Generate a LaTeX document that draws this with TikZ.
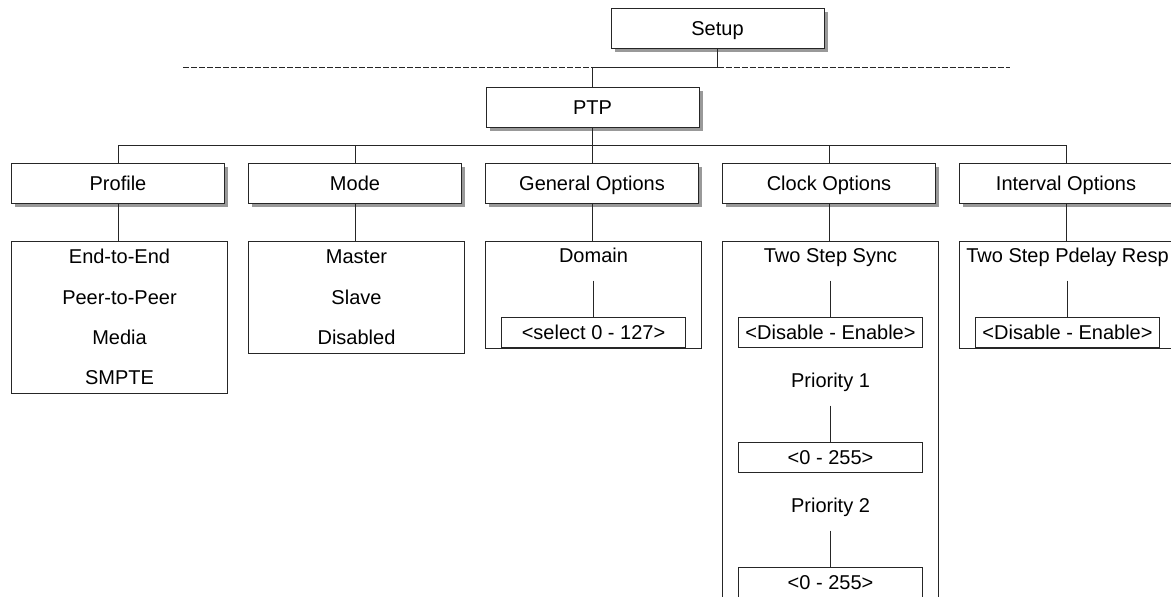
\documentclass[tikz,border=0pt]{standalone}
\usepackage{fontspec}
\setmainfont{Liberation Sans}
\usetikzlibrary{shadows}
\tikzset{
  hdr/.style={draw, fill=white, minimum width=106.5pt, minimum height=20pt, inner sep=0pt,
    drop shadow={shadow xshift=1.8pt, shadow yshift=-1.8pt, fill=black!40, opacity=1}},
  listbox/.style={draw, minimum width=108pt, inner sep=0pt},
  item/.style={minimum height=25pt, inner sep=0pt},
  valbox/.style={draw, fill=white, minimum width=92pt, minimum height=15pt, inner sep=0pt}
}
\begin{document}
\begin{tikzpicture}[x=0.5pt, y=-0.5pt, line width=0.5pt, draw=black!85,
    every node/.append style={font=\fontsize{10}{12}\selectfont, text height=7.2pt, text depth=0pt}]
  \useasboundingbox (0,0) rectangle (1171,596);
  \coordinate (busL) at (183,67);
  \coordinate (busR) at (1010,67);
  \coordinate (lvl) at (0,145);
  % top of the tree
  \node[hdr] (setup) at (717.5,28) {Setup};
  \node[hdr] (ptp) at (592.5,107) {PTP};
  \draw (setup) -- (setup |- busR);
  \draw (ptp |- busL) -- (ptp);
  \draw (ptp |- busL) -- (setup |- busR);
  \draw[dash pattern=on 3pt off 1pt] (busL) -- (ptp |- busL);
  \draw[dash pattern=on 3pt off 1pt] (setup |- busR) -- (busR);
  \draw (ptp) -- (ptp |- lvl);
  % second level
  \foreach \N/\X/\T in {profile/118/Profile, mode/355/Mode, general/592/General Options,
      clock/829/Clock Options, interval/1066/Interval Options} {
    \node[hdr] (\N) at (\X,183) {\T};
    \draw (\N) -- (\N |- lvl);
  }
  \draw (profile |- lvl) -- (interval |- lvl);
  % option lists
  \node[listbox, minimum height=76pt] (profilelist) at (119.5,317) {};
  \node[listbox, minimum height=56pt] (modelist) at (356.5,297) {};
  \node[listbox, minimum height=53.5pt] (generallist) at (593.5,294.5) {};
  \node[listbox, minimum height=190pt] (clocklist) at (830.5,431) {};
  \node[listbox, minimum height=53.5pt] (intervallist) at (1067.5,294.5) {};
  \foreach \N in {profile, mode, general, clock, interval}
    \draw (\N.south) -- (\N.south |- \N list.north);
  \foreach \N/\Y/\T in {e2e/256/End-to-End, p2p/297/Peer-to-Peer, media/337/Media, smpte/377/SMPTE}
    \node[item] (\N) at (119.5,\Y) {\T};
  \foreach \N/\Y/\T in {master/256/Master, slave/297/Slave, disabled/337/Disabled}
    \node[item] (\N) at (356.5,\Y) {\T};
  \node[item] (domain) at (593.5,255) {Domain};
  \node[valbox] (domainval) at (593.5,332) {<select 0 - 127>};
  \draw (domain) -- (domainval);
  \node[item] (sync) at (830.5,255) {Two Step Sync};
  \node[valbox] (syncval) at (830.5,332) {<Disable - Enable>};
  \draw (sync) -- (syncval);
  \node[item] (prio1) at (830.5,380) {Priority 1};
  \node[valbox] (prio1val) at (830.5,457) {<0 - 255>};
  \draw (prio1) -- (prio1val);
  \node[item] (prio2) at (830.5,505) {Priority 2};
  \node[valbox] (prio2val) at (830.5,582) {<0 - 255>};
  \draw (prio2) -- (prio2val);
  \node[item] (pdelay) at (1067.5,255) {Two Step Pdelay Resp};
  \node[valbox] (pdelayval) at (1067.5,332) {<Disable - Enable>};
  \draw (pdelay) -- (pdelayval);
\end{tikzpicture}
\end{document}
